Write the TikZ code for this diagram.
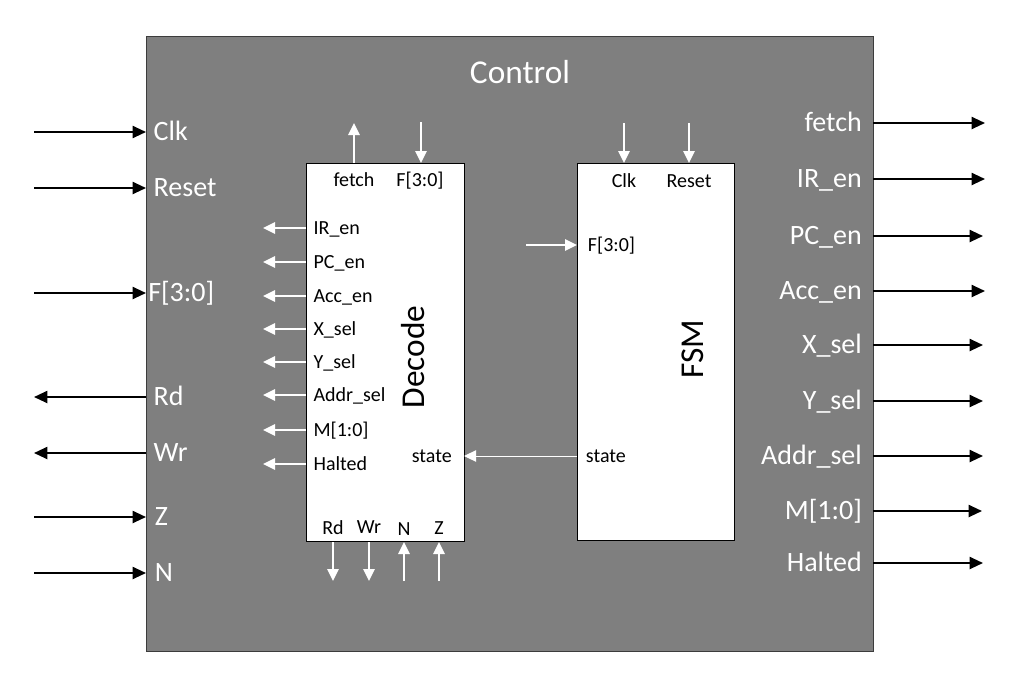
\documentclass[tikz,border=0pt]{standalone}
\usepackage{fontspec}
\setmainfont{Carlito}
\usepackage{xcolor}
\definecolor{ctrlgrey}{RGB}{127,127,127}
\definecolor{rimgrey}{RGB}{60,60,60}
\usetikzlibrary{arrows.meta,positioning,calc}
\tikzset{
    outlbl/.style={text=white, font=\fontsize{21}{25}\selectfont, text height=13.4pt, text depth=0pt, inner ysep=0pt},
    inlbl/.style={text=black, font=\fontsize{15}{18}\selectfont, text height=9.6pt, text depth=0pt, inner ysep=0pt},
    bigtitle/.style={font=\fontsize{25}{30}\selectfont},
    blkarrow/.style={-{Triangle[length=10pt,width=9pt]}, line width=1.5pt, black},
    whtarrow/.style={-{Triangle[length=9pt,width=8.5pt]}, line width=1.5pt, white},
    thinarrow/.style={-{Triangle[length=9pt,width=8.5pt]}, line width=.75pt, white},
    unitbox/.style={draw=black, fill=white, line width=.75pt, anchor=north west, inner sep=0pt},
}
\begin{document}
\begin{tikzpicture}[x=0.75pt,y=-0.75pt]
        \useasboundingbox (0,0) rectangle (1020,686);                                        % Umgebung
        \node[draw=rimgrey, fill=ctrlgrey, line width=.75pt, anchor=north west, inner sep=0pt,
              minimum width=545.25pt, minimum height=461.25pt] (control) at (146,36) {};   % Control-Block
        \node[bigtitle, text=white] (ctrlTitle) at (520,72) {Control};                       % Titel
        % Eingaenge links
        \node[outlbl, anchor=west, inner xsep=5.6pt] (lClk) at (146,132) {Clk};              % Clk
        \node[outlbl, anchor=west, inner xsep=5.6pt] (lReset) at (146,188) {Reset};          % Reset
        \node[outlbl, anchor=west, inner xsep=1.5pt] (lF) at (146,293) {F[3:0]};             % F
        \node[outlbl, anchor=west, inner xsep=5.6pt] (lRd) at (146,397) {Rd};                % Rd
        \node[outlbl, anchor=west, inner xsep=5.6pt] (lWr) at (146,453) {Wr};                % Wr
        \node[outlbl, anchor=west, inner xsep=6.5pt] (lZ) at (146,517) {Z};                  % Z
        \node[outlbl, anchor=west, inner xsep=6.5pt] (lN) at (146,573) {N};                  % N
        \coordinate (sClk) at (34,132);                                                      % Quelle Clk
        \coordinate (sReset) at (34,188);                                                    % Quelle Reset
        \coordinate (sF) at (34,293);                                                        % Quelle F
        \coordinate (sRd) at (34,397);                                                       % Ziel Rd
        \coordinate (sWr) at (34,453);                                                       % Ziel Wr
        \coordinate (sZ) at (34,517);                                                        % Quelle Z
        \coordinate (sN) at (34,573);                                                        % Quelle N
        \draw[blkarrow] (sClk) -- (lClk.west);                                               % Clk-Pfeil
        \draw[blkarrow] (sReset) -- (lReset.west);                                           % Reset-Pfeil
        \draw[blkarrow] (sF) -- (lF.west);                                                   % F-Pfeil
        \draw[blkarrow] (lRd.west) -- (sRd);                                                 % Rd-Pfeil
        \draw[blkarrow] (lWr.west) -- (sWr);                                                 % Wr-Pfeil
        \draw[blkarrow] (sZ) -- (lZ.west);                                                   % Z-Pfeil
        \draw[blkarrow] (sN) -- (lN.west);                                                   % N-Pfeil
        % Ausgaenge rechts
        \node[outlbl, anchor=east, inner xsep=8.2pt] (rFetch) at (873,123) {fetch};          % fetch
        \node[outlbl, anchor=east, inner xsep=8.2pt] (rIR) at (873,179) {IR\_en};            % IR_en
        \node[outlbl, anchor=east, inner xsep=8.2pt] (rPC) at (873,236) {PC\_en};            % PC_en
        \node[outlbl, anchor=east, inner xsep=8.2pt] (rAcc) at (873,291) {Acc\_en};          % Acc_en
        \node[outlbl, anchor=east, inner xsep=8.2pt] (rX) at (873,345) {X\_sel};             % X_sel
        \node[outlbl, anchor=east, inner xsep=8.2pt] (rY) at (873,401) {Y\_sel};             % Y_sel
        \node[outlbl, anchor=east, inner xsep=8.2pt] (rAddr) at (873,456) {Addr\_sel};       % Addr_sel
        \node[outlbl, anchor=east, inner xsep=8.2pt] (rM) at (873,511) {M[1:0]};             % M
        \node[outlbl, anchor=east, inner xsep=8.2pt] (rHalt) at (873,563) {Halted};          % Halted
        \coordinate (tFetch) at (985,123);                                                   % Ziel fetch
        \coordinate (tIR) at (985,179);                                                      % Ziel IR_en
        \coordinate (tPC) at (983,236);                                                      % Ziel PC_en
        \coordinate (tAcc) at (985,291);                                                     % Ziel Acc_en
        \coordinate (tX) at (983,345);                                                       % Ziel X_sel
        \coordinate (tY) at (983,401);                                                       % Ziel Y_sel
        \coordinate (tAddr) at (983,456);                                                    % Ziel Addr_sel
        \coordinate (tM) at (982,511);                                                       % Ziel M
        \coordinate (tHalt) at (983,563);                                                    % Ziel Halted
        \draw[blkarrow] (rFetch.east) -- (tFetch);                                           % fetch-Pfeil
        \draw[blkarrow] (rIR.east) -- (tIR);                                                 % IR_en-Pfeil
        \draw[blkarrow] (rPC.east) -- (tPC);                                                 % PC_en-Pfeil
        \draw[blkarrow] (rAcc.east) -- (tAcc);                                               % Acc_en-Pfeil
        \draw[blkarrow] (rX.east) -- (tX);                                                   % X_sel-Pfeil
        \draw[blkarrow] (rY.east) -- (tY);                                                   % Y_sel-Pfeil
        \draw[blkarrow] (rAddr.east) -- (tAddr);                                             % Addr_sel-Pfeil
        \draw[blkarrow] (rM.east) -- (tM);                                                   % M-Pfeil
        \draw[blkarrow] (rHalt.east) -- (tHalt);                                             % Halted-Pfeil
        % Decode-Block
        \node[unitbox, minimum width=118.5pt, minimum height=283.5pt] (decode) at (306,163) {}; % Decode
        \node[bigtitle, rotate=90] (decTitle) at (413,357) {Decode};                         % Decode-Titel
        \node[inlbl] (dFetch) at (354,180) {fetch};                                          % fetch
        \node[inlbl] (dF) at (420,180) {F[3:0]};                                             % F
        \node[inlbl, anchor=west, inner xsep=5.5pt] (dIR) at (306,228) {IR\_en};             % IR_en
        \node[inlbl, anchor=west, inner xsep=5.5pt] (dPC) at (306,262) {PC\_en};             % PC_en
        \node[inlbl, anchor=west, inner xsep=5.5pt] (dAcc) at (306,296) {Acc\_en};           % Acc_en
        \node[inlbl, anchor=west, inner xsep=5.5pt] (dX) at (306,329) {X\_sel};              % X_sel
        \node[inlbl, anchor=west, inner xsep=5.5pt] (dY) at (306,362) {Y\_sel};              % Y_sel
        \node[inlbl, anchor=west, inner xsep=5.5pt] (dAddr) at (306,395) {Addr\_sel};        % Addr_sel
        \node[inlbl, anchor=west, inner xsep=5.5pt] (dM) at (306,430) {M[1:0]};              % M
        \node[inlbl, anchor=west, inner xsep=5.5pt] (dHalt) at (306,464) {Halted};           % Halted
        \node[inlbl, anchor=east, inner xsep=9pt] (dState) at (464,456) {state};             % state
        \node[inlbl] (dRd) at (333,528) {Rd};                                                % Rd
        \node[inlbl] (dWr) at (369,527) {Wr};                                                % Wr
        \node[inlbl] (dN) at (404,529) {N};                                                  % N
        \node[inlbl] (dZ) at (439,528) {Z};                                                  % Z
        \coordinate (uFetch) at (354,123);                                                   % fetch oben
        \coordinate (uF) at (421,122);                                                       % F oben
        \coordinate (eIR) at (263,228);                                                      % IR_en links
        \coordinate (ePC) at (263,262);                                                      % PC_en links
        \coordinate (eAcc) at (263,296);                                                     % Acc_en links
        \coordinate (eX) at (263,329);                                                       % X_sel links
        \coordinate (eY) at (263,362);                                                       % Y_sel links
        \coordinate (eAddr) at (263,395);                                                    % Addr_sel links
        \coordinate (eM) at (263,430);                                                       % M links
        \coordinate (eHalt) at (263,464);                                                    % Halted links
        \coordinate (bRd) at (333,581);                                                      % Rd unten
        \coordinate (bWr) at (369,581);                                                      % Wr unten
        \coordinate (bN) at (404,581);                                                       % N unten
        \coordinate (bZ) at (439,581);                                                       % Z unten
        \draw[whtarrow] (dFetch |- decode.north) -- (uFetch);                                % fetch-Pfeil
        \draw[whtarrow] (uF) -- (uF |- decode.north);                                        % F-Pfeil
        \draw[whtarrow] (dIR.west) -- (eIR);                                                 % IR_en-Pfeil
        \draw[whtarrow] (dPC.west) -- (ePC);                                                 % PC_en-Pfeil
        \draw[whtarrow] (dAcc.west) -- (eAcc);                                               % Acc_en-Pfeil
        \draw[whtarrow] (dX.west) -- (eX);                                                   % X_sel-Pfeil
        \draw[whtarrow] (dY.west) -- (eY);                                                   % Y_sel-Pfeil
        \draw[whtarrow] (dAddr.west) -- (eAddr);                                             % Addr_sel-Pfeil
        \draw[whtarrow] (dM.west) -- (eM);                                                   % M-Pfeil
        \draw[whtarrow] (dHalt.west) -- (eHalt);                                             % Halted-Pfeil
        \draw[whtarrow] (dRd |- decode.south) -- (bRd);                                      % Rd-Pfeil
        \draw[whtarrow] (dWr |- decode.south) -- (bWr);                                      % Wr-Pfeil
        \draw[whtarrow] (bN) -- (dN |- decode.south);                                        % N-Pfeil
        \draw[whtarrow] (bZ) -- (dZ |- decode.south);                                        % Z-Pfeil
        % FSM-Block
        \node[unitbox, minimum width=117.75pt, minimum height=282.75pt] (fsm) at (577,163) {}; % FSM
        \node[bigtitle, rotate=90] (fsmTitle) at (693,349) {FSM};                            % FSM-Titel
        \node[inlbl] (fClk) at (624,181) {Clk};                                              % Clk
        \node[inlbl] (fReset) at (689,181) {Reset};                                          % Reset
        \node[inlbl, anchor=west, inner xsep=8pt] (fF) at (577,245) {F[3:0]};                % F
        \node[inlbl, anchor=west, inner xsep=6.5pt] (fState) at (577,456) {state};           % state
        \coordinate (uClk) at (624,123);                                                     % Clk oben
        \coordinate (uReset) at (689,123);                                                   % Reset oben
        \coordinate (wF) at (526,245);                                                       % F links
        \draw[whtarrow] (uClk) -- (fClk |- fsm.north);                                       % Clk-Pfeil
        \draw[whtarrow] (uReset) -- (fReset |- fsm.north);                                   % Reset-Pfeil
        \draw[whtarrow] (wF) -- (fF.west);                                                   % F-Pfeil
        \draw[thinarrow] (fState.west) -- (dState.east);                                     % state-Pfeil
    \end{tikzpicture}
\end{document}
